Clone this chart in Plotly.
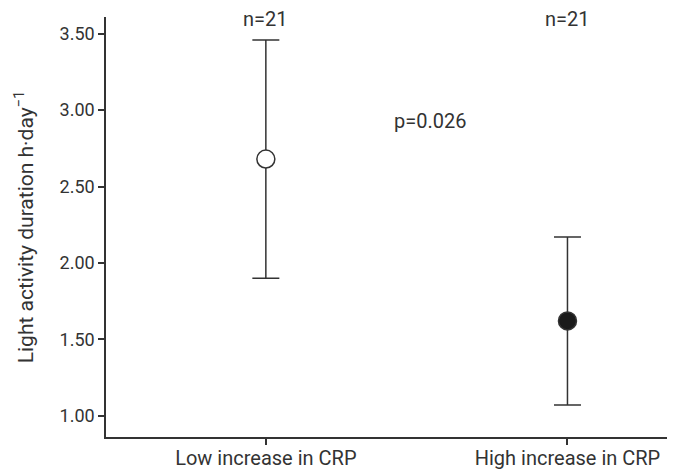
import plotly.graph_objects as go

categories = ["Low increase in CRP", "High increase in CRP"]
means = [2.68, 1.62]
upper = [3.46, 2.17]
lower = [1.90, 1.07]
n_labels = ["n=21", "n=21"]
p_label = "p=0.026"
tick_vals = [1.0, 1.5, 2.0, 2.5, 3.0, 3.5]
tick_text = ["1.00", "1.50", "2.00", "2.50", "3.00", "3.50"]

FONT = "Roboto"
INK = "#333333"

xpos = list(range(len(categories)))
err_plus = [u - m for u, m in zip(upper, means)]
err_minus = [m - l for m, l in zip(means, lower)]

fig = go.Figure()
fill_colors = ["white", "#1a1a1a"]
for i in range(len(categories)):
    fig.add_trace(go.Scatter(
        x=[xpos[i]], y=[means[i]], mode="markers",
        marker=dict(size=18, color=fill_colors[i], line=dict(color=INK, width=1.5)),
        error_y=dict(type="data", symmetric=False, array=[err_plus[i]], arrayminus=[err_minus[i]],
                     color=INK, thickness=1.5, width=13.5),
        showlegend=False, cliponaxis=False,
    ))

for i in range(len(categories)):
    fig.add_annotation(x=xpos[i], y=3.60, text=n_labels[i], showarrow=False,
                       xref="x", yref="y", yanchor="middle",
                       font=dict(family=FONT, size=20, color=INK))
fig.add_annotation(x=0.543, y=2.93, text=p_label, showarrow=False,
                   xref="x", yref="y", yanchor="middle",
                   font=dict(family=FONT, size=20, color=INK))

fig.update_layout(
    width=686, height=472,
    margin=dict(l=106, r=19, t=17, b=35),
    paper_bgcolor="white", plot_bgcolor="white",
    font=dict(family=FONT, size=18, color=INK),
    xaxis=dict(range=[-0.53, 1.33], tickvals=xpos, ticktext=categories, automargin=False,
               showgrid=False, zeroline=False, showline=True, linecolor=INK, linewidth=1.5,
               ticks="outside", ticklen=6, tickwidth=1.5, tickcolor=INK,
               ticklabelstandoff=-4,
               tickfont=dict(family=FONT, size=20, color=INK)),
    yaxis=dict(range=[0.86, 3.61], tickvals=tick_vals, ticktext=tick_text, automargin=False,
               showgrid=False, zeroline=False, showline=True, linecolor=INK, linewidth=1.5,
               ticks="outside", ticklen=6, tickwidth=1.5, tickcolor=INK,
               tickfont=dict(family=FONT, size=18, color=INK),
               title=dict(text="Light activity duration h·day<sup>−1</sup>",
                          font=dict(family=FONT, size=21, color=INK), standoff=20)),
)

fig.write_html("out.html")
